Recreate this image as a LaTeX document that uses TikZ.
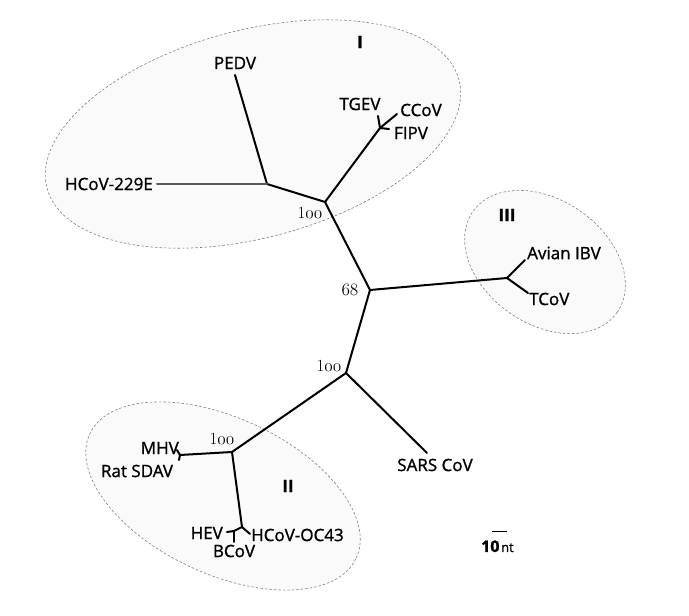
\documentclass[tikz,border=0pt]{standalone}
\usepackage{fontspec}
\setmainfont{Open Sans}[FakeBold=1.2]
\tikzset{
  lbl/.style={inner sep=0pt, font=\fontsize{17}{20}\selectfont},
  bs/.style={inner sep=0pt, font=\fontsize{17}{19}\selectfont},
  grp/.style={inner sep=0pt, font=\bfseries\fontsize{17}{20}\selectfont},
  branch/.style={line width=2pt, line cap=round, line join=round},
  clade/.style={draw=black!50, line width=0.6pt, dash pattern=on 2.5pt off 2pt, fill=black!2}
}
\newcommand{\bsnum}[1]{$\mathnormal{#1}$}
\newcommand{\bsone}{{\fontfamily{lmr}\selectfont 1}}
\begin{document}
\begin{tikzpicture}[x=1pt,y=1pt]
\useasboundingbox (0,0) rectangle (689,616);
% clade ellipses
\coordinate (cI) at (253,482);
\coordinate (cII) at (223,120);
\coordinate (cIII) at (545,354);
\path[clade, rotate around={14.7:(cI)}] (cI) ellipse [x radius=213, y radius=104];
\path[clade, rotate around={-25:(cII)}] (cII) ellipse [x radius=147, y radius=78];
\path[clade, rotate around={-35:(cIII)}] (cIII) ellipse [x radius=88, y radius=62];
% tree points
\coordinate (A) at (325,414);
\coordinate (B) at (267,432);
\coordinate (PEDVl) at (235,541);
\coordinate (HCoVl) at (157,432);
\coordinate (C) at (380,488);
\coordinate (TGEVl) at (378,500);
\coordinate (CCoVl) at (397,502);
\coordinate (FIPVl) at (389,487);
\coordinate (D) at (370,326);
\coordinate (E) at (507,338);
\coordinate (Avianl) at (525,356);
\coordinate (TCoVl) at (528,323);
\coordinate (F) at (346,243);
\coordinate (SARSl) at (427,163);
\coordinate (G) at (232,164);
\coordinate (H) at (180,161);
\coordinate (MHVl) at (177,166);
\coordinate (Ratl) at (179,156);
\coordinate (J) at (242,89);
\coordinate (K) at (234,85);
\coordinate (HEVl) at (227,84);
\coordinate (BCoVl) at (234,74);
\coordinate (OC43l) at (250,82);
\coordinate (sb1) at (492,84);
\coordinate (sb2) at (507,84);
% branches
\draw[branch] (A) -- (B) -- (PEDVl);
\draw[branch, black!65] (B) -- (HCoVl);
\draw[branch] (A) -- (C) -- (TGEVl);
\draw[branch] (C) -- (CCoVl);
\draw[branch] (C) -- (FIPVl);
\draw[branch] (A) -- (D) -- (E) -- (Avianl);
\draw[branch] (E) -- (TCoVl);
\draw[branch] (D) -- (F) -- (SARSl);
\draw[branch] (F) -- (G) -- (H) -- (MHVl);
\draw[branch] (H) -- (Ratl);
\draw[branch] (G) -- (J) -- (K) -- (HEVl);
\draw[branch] (K) -- (BCoVl);
\draw[branch] (J) -- (OC43l);
\draw[line width=1pt] (sb1) -- (sb2);
% labels
\node[lbl] (tPEDV) at (235,553) {PEDV};
\node[lbl, anchor=east] (tHCoV) at (153,432) {HCoV-229E};
\node[lbl] (tTGEV) at (360,512) {TGEV};
\node[lbl] (tCCoV) at (421,506) {CCoV};
\node[lbl] (tFIPV) at (411,483) {FIPV};
\node[grp] (gI) at (360,574) {I};
\node[bs, anchor=base] (bA) at (310,397) {\bsone\bsnum{00}};
\node[bs, anchor=base] (bD) at (350,320) {\bsnum{68}};
\node[grp] (gIII) at (507,401) {III};
\node[lbl, anchor=west] (tAvian) at (527,363) {Avian IBV};
\node[lbl, anchor=west] (tTCoV) at (529,317) {TCoV};
\node[bs, anchor=base] (bF) at (329,244) {\bsone\bsnum{00}};
\node[lbl] (tSARS) at (435,151) {SARS CoV};
\node[bs, anchor=base] (bG) at (222,171) {\bsone\bsnum{00}};
\node[lbl, anchor=east] (tMHV) at (179,168) {MHV};
\node[lbl] (tRat) at (137,145) {Rat SDAV};
\node[grp] (gII) at (288,130) {II};
\node[lbl, anchor=east] (tHEV) at (223,83) {HEV};
\node[lbl, anchor=west] (tOC43) at (251,81) {HCoV-OC43};
\node[lbl] (tBCoV) at (234,65) {BCoV};
\node[inner sep=0pt, anchor=base west] (tscale) at (481,64) {{\bfseries\fontsize{16}{18}\selectfont 10}\,{\fontsize{13}{15}\selectfont nt}};
\end{tikzpicture}
\end{document}
